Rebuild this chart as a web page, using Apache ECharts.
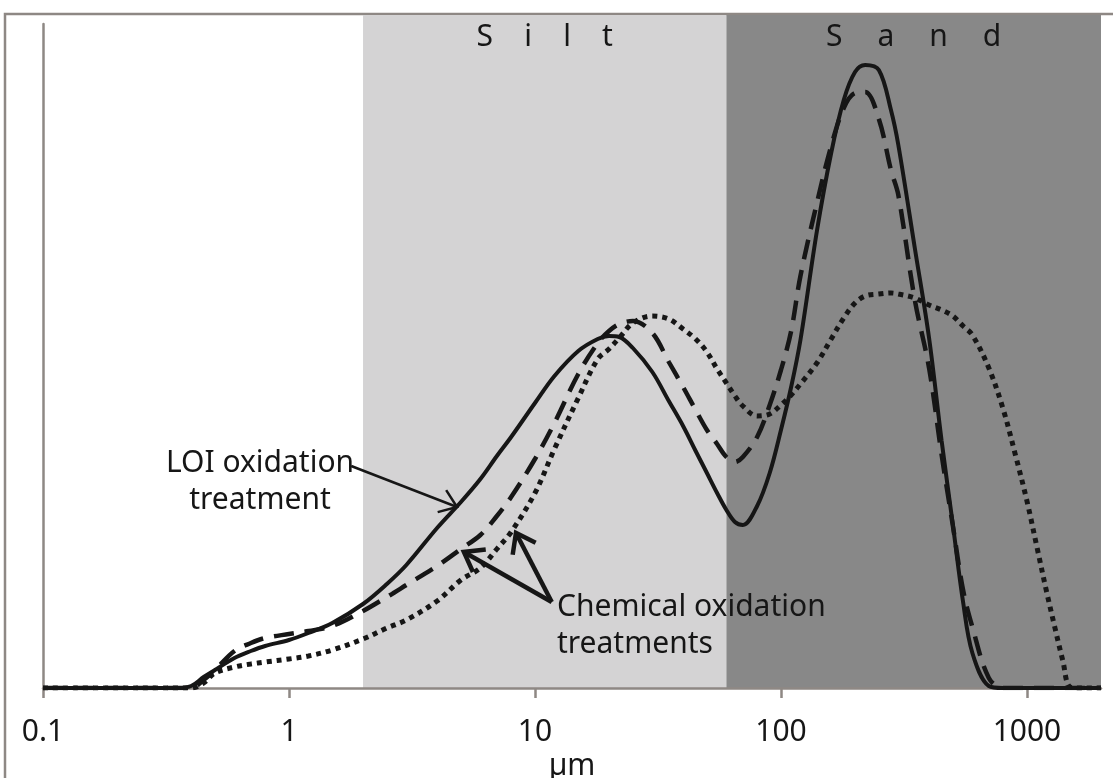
<!DOCTYPE html>
<html>
<head>
<meta charset="utf-8">
<title>Grain size distribution</title>
<script src="https://cdn.jsdelivr.net/npm/echarts@6/dist/echarts.min.js"></script>
<style>
  html, body { margin: 0; padding: 0; background: #ffffff; }
  #chart { width: 1113px; height: 778px; }
</style>
</head>
<body>
<div id="chart"></div>
<script>
// Grain size classes (µm)
const sizes = [0.1, 0.2, 0.3, 0.35, 0.4, 0.45, 0.5, 0.6, 0.7, 0.8,
  1, 1.2, 1.5, 2, 2.5, 3, 4, 5, 6, 7, 8,
  10, 12, 15, 18, 20, 22, 25, 30, 35, 40, 45, 50, 55, 60, 65, 70, 80, 90,
  100, 110, 120, 140, 160, 180, 200, 220, 250, 280, 300, 350, 400, 450, 500, 550, 600, 700, 800, 900,
  1000, 1100, 1200, 1300, 1400, 1500, 1700, 2000];

// Volume (%) in each size class
const loiTreatment = [0, 0, 0, 0, 0.02, 0.11, 0.18, 0.30, 0.37, 0.42,
  0.48, 0.55, 0.65, 0.84, 1.04, 1.23, 1.60, 1.86, 2.09, 2.32, 2.51,
  2.85, 3.12, 3.37, 3.49, 3.52, 3.51, 3.40, 3.16, 2.87, 2.62, 2.37, 2.15, 1.95, 1.78, 1.66, 1.63, 1.82, 2.15,
  2.58, 3.01, 3.48, 4.57, 5.35, 5.88, 6.16, 6.23, 6.18, 5.78, 5.43, 4.40, 3.50, 2.47, 1.63, 0.86, 0.35, 0.02, 0, 0,
  0, 0, 0, 0, 0, 0, 0, 0];

const chemicalTreatmentA = [0, 0, 0, 0, 0, 0.08, 0.18, 0.37, 0.45, 0.50,
  0.54, 0.57, 0.62, 0.77, 0.91, 1.03, 1.22, 1.39, 1.53, 1.72, 1.91,
  2.29, 2.65, 3.14, 3.45, 3.57, 3.64, 3.67, 3.55, 3.26, 3.01, 2.78, 2.58, 2.44, 2.31, 2.26, 2.31, 2.51, 2.83,
  3.18, 3.57, 4.12, 4.85, 5.42, 5.80, 5.95, 5.96, 5.69, 5.18, 4.93, 3.88, 3.20, 2.33, 1.62, 0.98, 0.61, 0.10, 0, 0,
  0, 0, 0, 0, 0, 0, 0, 0];

const chemicalTreatmentB = [0, 0, 0, 0, 0, 0.05, 0.15, 0.21, 0.24, 0.26,
  0.29, 0.32, 0.38, 0.49, 0.60, 0.68, 0.87, 1.08, 1.20, 1.39, 1.56,
  1.95, 2.39, 2.90, 3.29, 3.39, 3.50, 3.65, 3.72, 3.69, 3.59, 3.49, 3.36, 3.19, 3.05, 2.92, 2.82, 2.72, 2.74,
  2.83, 2.93, 3.04, 3.25, 3.49, 3.70, 3.85, 3.92, 3.94, 3.95, 3.94, 3.90, 3.83, 3.78, 3.72, 3.62, 3.53, 3.20, 2.79, 2.32,
  1.87, 1.40, 0.97, 0.60, 0.27, 0.01, 0, 0];

// Size fractions shaded behind the curves (µm)
const fractionEdges = [2, 60, 2000];
const fractionLabels = ['S    i    l    t', 'S\u2002\u2002\u2009a\u2002\u2002\u2009n\u2002\u2002\u2009d'];

const xTicks = [0.1, 1, 10, 100, 1000];

// Annotation arrows: [from size, from %, to size, to %]
const loiArrow = [[1.79, 2.22, 4.82, 1.81]];
const chemicalArrows = [[11.7, 0.86, 5.14, 1.36], [11.7, 0.86, 8.37, 1.55]];

const AXIS_GREY = '#8e8884';
const INK = '#161616';
const FONT = '"Noto Sans", "Open Sans", sans-serif';
const FONT_SIZE = 30;
const fractionColors = ['#d4d3d4', '#888888'];

const toPairs = (ys) => sizes.map((s, i) => [s, ys[i]]);
const fractions = fractionEdges.slice(0, -1).map((e, i) => [e, fractionEdges[i + 1]]);

function arrowRenderer(width, head) {
  return function (params, api) {
    const p0 = api.coord([api.value(0), api.value(1)]);
    const p1 = api.coord([api.value(2), api.value(3)]);
    const ang = Math.atan2(p1[1] - p0[1], p1[0] - p0[0]);
    const spread = Math.PI / 5;
    const h1 = [p1[0] - head * Math.cos(ang - spread), p1[1] - head * Math.sin(ang - spread)];
    const h2 = [p1[0] - head * Math.cos(ang + spread), p1[1] - head * Math.sin(ang + spread)];
    return {
      type: 'group',
      children: [
        { type: 'line', shape: { x1: p0[0], y1: p0[1], x2: p1[0], y2: p1[1] },
          style: { stroke: INK, lineWidth: width } },
        { type: 'polyline', shape: { points: [h1, p1, h2] },
          style: { stroke: INK, lineWidth: width, fill: null, lineJoin: 'miter' } }
      ]
    };
  };
}

const chart = echarts.init(document.getElementById('chart'), null, { renderer: 'canvas' });

chart.setOption({
  animation: false,
  backgroundColor: '#ffffff',
  textStyle: { fontFamily: FONT },
  grid: [
    { left: 43, right: 12, top: 15, bottom: 90, outerBoundsMode: 'none', containLabel: false },
    { left: 43, right: 12, top: 24, bottom: 90, outerBoundsMode: 'none', containLabel: false }
  ],
  xAxis: [
    { gridIndex: 0, type: 'log', logBase: 10, min: 0.1, max: 2000, show: false },
    {
      gridIndex: 1, type: 'log', logBase: 10, min: 0.1, max: 2000, z: 3,
      axisLine: { lineStyle: { color: AXIS_GREY, width: 2.5 } },
      axisTick: { show: true, length: 10, customValues: xTicks, lineStyle: { color: AXIS_GREY, width: 2.5 } },
      axisLabel: {
        customValues: xTicks, margin: 29, fontSize: FONT_SIZE, color: INK, fontFamily: FONT,
        formatter: (v) => {
          const l = Math.log10(v);
          return Math.abs(l - Math.round(l)) < 1e-6 ? String(+v.toPrecision(6)) : '';
        }
      },
      minorTick: { show: false },
      splitLine: { show: false },
      name: 'µm', nameLocation: 'middle', nameGap: 58,
      nameTextStyle: { fontSize: FONT_SIZE, color: INK, fontFamily: FONT }
    }
  ],
  yAxis: [
    { gridIndex: 0, type: 'value', min: 0, max: 1, show: false },
    {
      gridIndex: 1, type: 'value', min: 0, max: 6.64, z: 3,
      axisLine: { show: true, lineStyle: { color: AXIS_GREY, width: 2.5 } },
      axisTick: { show: false }, axisLabel: { show: false }, splitLine: { show: false }
    }
  ],
  graphic: [
    { type: 'rect', z: 0, silent: true,
      shape: { x: 5, y: 14, width: 1200, height: 900 },
      style: { fill: null, stroke: AXIS_GREY, lineWidth: 2.5 } },
    { type: 'text', z: 10, silent: true,
      style: { text: 'LOI oxidation\ntreatment', x: 260, y: 482, align: 'center', verticalAlign: 'middle',
               font: FONT_SIZE + 'px ' + FONT, lineHeight: 37, fill: INK } },
    { type: 'text', z: 10, silent: true,
      style: { text: 'Chemical oxidation\ntreatments', x: 557, y: 626, align: 'left', verticalAlign: 'middle',
               font: FONT_SIZE + 'px ' + FONT, lineHeight: 37, fill: INK } }
  ],
  series: [
    {
      name: 'Fractions', type: 'custom', xAxisIndex: 0, yAxisIndex: 0, z: 1, silent: true,
      data: fractions,
      encode: { x: [0, 1] },
      renderItem: (params, api) => {
        const a = api.coord([api.value(0), 1]);
        const b = api.coord([api.value(1), 0]);
        return {
          type: 'group',
          children: [
            { type: 'rect', shape: { x: a[0], y: a[1], width: b[0] - a[0], height: b[1] - a[1] },
              style: { fill: fractionColors[params.dataIndex] } },
            { type: 'text', style: { text: fractionLabels[params.dataIndex], x: (a[0] + b[0]) / 2, y: a[1] + 22,
                align: 'center', verticalAlign: 'middle', font: FONT_SIZE + 'px ' + FONT, fill: INK } }
          ]
        };
      }
    },
    {
      name: 'LOI oxidation treatment', type: 'line', xAxisIndex: 1, yAxisIndex: 1, z: 5,
      data: toPairs(loiTreatment), showSymbol: false, smooth: 0.35,
      lineStyle: { color: INK, width: 4 }
    },
    {
      name: 'Chemical oxidation treatment A', type: 'line', xAxisIndex: 1, yAxisIndex: 1, z: 5,
      data: toPairs(chemicalTreatmentA), showSymbol: false, smooth: 0.35,
      lineStyle: { color: INK, width: 4.5, type: [20, 11] }
    },
    {
      name: 'Chemical oxidation treatment B', type: 'line', xAxisIndex: 1, yAxisIndex: 1, z: 5,
      data: toPairs(chemicalTreatmentB), showSymbol: false, smooth: 0.35,
      lineStyle: { color: INK, width: 5, type: [5, 5] }
    },
    {
      name: 'LOI arrow', type: 'custom', xAxisIndex: 1, yAxisIndex: 1, z: 6, silent: true, clip: false,
      data: loiArrow, encode: { x: [0, 2], y: [1, 3] },
      renderItem: arrowRenderer(2.5, 20)
    },
    {
      name: 'Chemical arrows', type: 'custom', xAxisIndex: 1, yAxisIndex: 1, z: 6, silent: true, clip: false,
      data: chemicalArrows, encode: { x: [0, 2], y: [1, 3] },
      renderItem: arrowRenderer(4.5, 22)
    }
  ]
});
</script>
</body>
</html>
